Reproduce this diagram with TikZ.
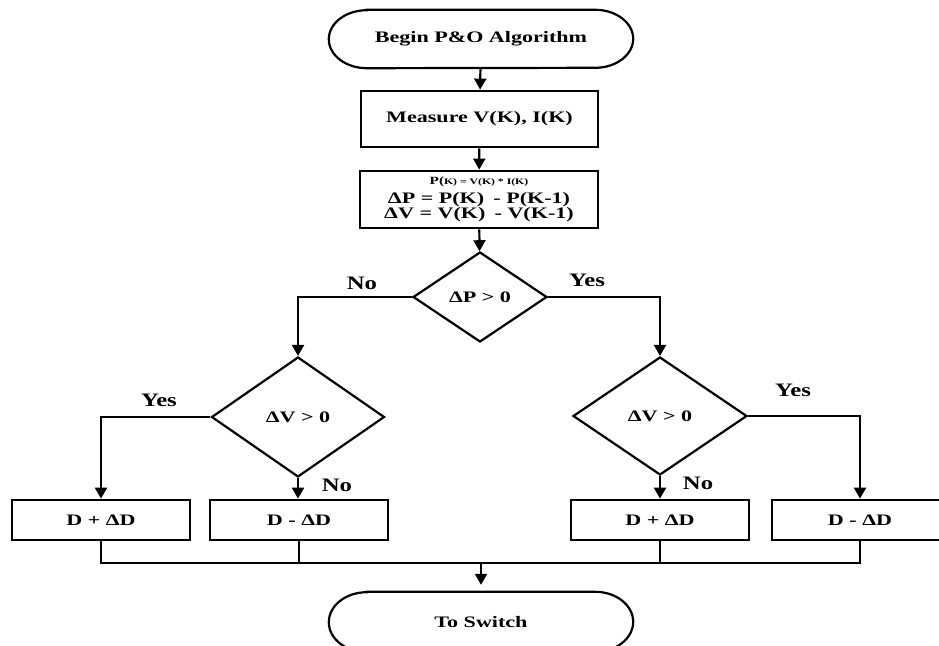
\documentclass[tikz,border=0pt]{standalone}
\usepackage{fontspec}
\setmainfont{Liberation Serif}
\usepackage{graphicx}
\usetikzlibrary{shapes.geometric,arrows.meta}
\newcommand{\xs}[1]{\scalebox{1.38}[1]{#1}}
\newcommand{\xl}[1]{\scalebox{1.3}[1]{#1}}
\begin{document}
\begin{tikzpicture}[x=1pt,y=-1pt,
  txt/.style={font=\fontsize{16}{15}\selectfont\bfseries},
  lbl/.style={font=\fontsize{19}{19}\selectfont\bfseries, inner sep=0},
  procbox/.style={draw, line width=2.8pt, inner sep=0, txt, align=center},
  decision/.style={draw, diamond, line width=2.2pt, inner sep=0, txt},
  termnode/.style={inner sep=0, txt, minimum width=304pt, minimum height=58pt},
  termline/.style={line width=2.2pt},
  flow/.style={line width=2.2pt, -{Triangle[width=12pt,length=11pt]}},
  link/.style={line width=2.2pt}]
\useasboundingbox (0,0) rectangle (939,645);

% terminals
\node[termnode] (begin) at (481,39) {\xs{Begin P\&O Algorithm}};
\node[termnode, minimum height=60pt] (end) at (481,622) {\xs{To Switch}};
\draw[termline] ([xshift=38pt]begin.north west) -- ([xshift=-38pt]begin.north east)
  arc[start angle=90,end angle=-90,x radius=38pt,y radius=29pt]
  -- ([xshift=38pt]begin.south west)
  arc[start angle=270,end angle=90,x radius=38pt,y radius=29pt] -- cycle;
\draw[termline] ([xshift=38pt]end.north west) -- ([xshift=-38pt]end.north east)
  arc[start angle=90,end angle=-90,x radius=38pt,y radius=30pt]
  -- ([xshift=38pt]end.south west)
  arc[start angle=270,end angle=90,x radius=38pt,y radius=30pt] -- cycle;

% process boxes
\node[procbox, minimum width=237pt, minimum height=56pt] (measure) at (479.5,119) {\xs{Measure V(K), I(K)}};
\node[procbox, minimum width=238pt, minimum height=57pt] (formula) at (479,199.5)
  {\xs{{\fontsize{11}{11}\selectfont P(}{\fontsize{8.5}{9}\selectfont K) = V(K) * I(K)}}\\[4.5pt]
   \xs{ΔP = P(K)\, - P(K-1)}\\
   \xs{ΔV = V(K)\, - V(K-1)}};

% decisions
\node[decision, minimum width=134pt, minimum height=90pt] (d1) at (480,297) {\xs{ΔP > 0}};
\node[decision, minimum width=173pt, minimum height=120pt] (d2) at (298,417) {\xs{ΔV > 0}};
\node[decision, minimum width=174pt, minimum height=118pt] (d3) at (660,416) {\xs{ΔV > 0}};

% result boxes
\node[procbox, minimum width=178pt, minimum height=40pt] (b1) at (101,520) {\xs{D + ΔD}};
\node[procbox, minimum width=178pt, minimum height=40pt] (b2) at (299,520) {\xs{D - ΔD}};
\node[procbox, minimum width=178pt, minimum height=40pt] (b3) at (660,520) {\xs{D + ΔD}};
\node[procbox, minimum width=176pt, minimum height=40pt] (b4) at (860,520) {\xs{D - ΔD}};

% labels
\node[lbl] (lno1) at (362,283) {\xl{No}};
\node[lbl] (lyes1) at (587,280) {\xl{Yes}};
\node[lbl] (lyes2) at (159,400) {\xl{Yes}};
\node[lbl] (lno2) at (337,485) {\xl{No}};
\node[lbl] (lyes3) at (793,390) {\xl{Yes}};
\node[lbl] (lno3) at (698,483) {\xl{No}};

% connectors
\draw[flow] (begin) -- (measure);
\draw[flow] (measure) -- (formula);
\draw[flow] (formula) -- (d1);
\draw[flow] (d1.west) -| (d2.north);
\draw[flow] (d1.east) -| (d3.north);
\draw[flow] (d2.west) -| (b1.north);
\draw[flow] (d2.south) -- (d2.south |- b2.north);
\draw[flow] (d3.south) -- (d3.south |- b3.north);
\draw[flow] (d3.east) -| (b4.north);

\coordinate (j) at (481,563);
\draw[link] (b1.south) -- (b1.south |- j) -- (b4.south |- j) -- (b4.south);
\draw[link] (b2.south) -- (b2.south |- j);
\draw[link] (b3.south) -- (b3.south |- j);
\draw[flow, shorten >=7pt] (j) -- (end.north);
\end{tikzpicture}
\end{document}
